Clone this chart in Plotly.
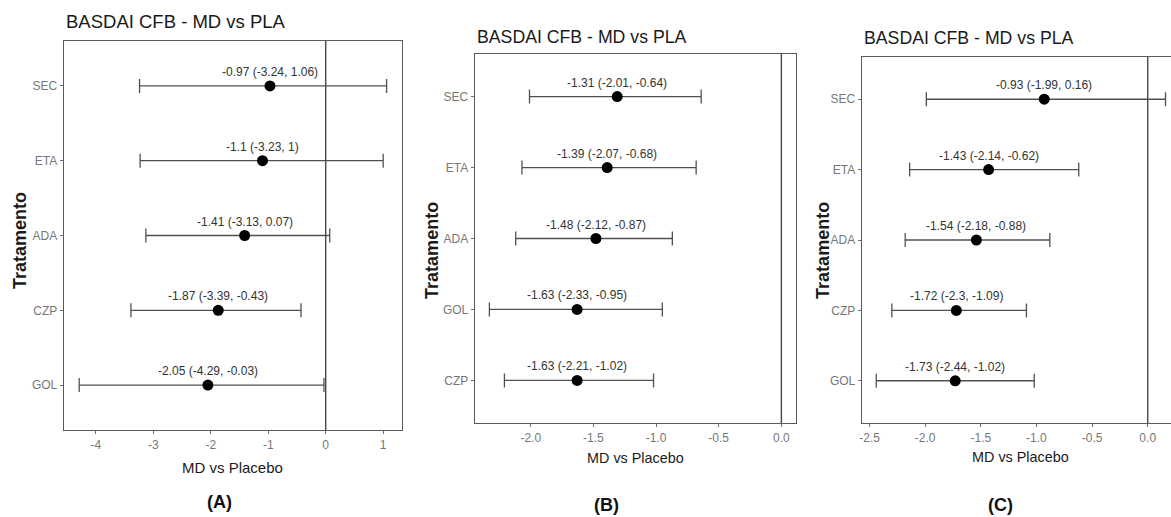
import plotly.graph_objects as go

# ---------------- data ----------------
# Panel A (top to bottom)
cat_a = ["SEC", "ETA", "ADA", "CZP", "GOL"]
md_a = [-0.97, -1.1, -1.41, -1.87, -2.05]
lo_a = [-3.24, -3.23, -3.13, -3.39, -4.29]
hi_a = [1.06, 1.0, 0.07, -0.43, -0.03]

# Panel B
cat_b = ["SEC", "ETA", "ADA", "GOL", "CZP"]
md_b = [-1.31, -1.39, -1.48, -1.63, -1.63]
lo_b = [-2.01, -2.07, -2.12, -2.33, -2.21]
hi_b = [-0.64, -0.68, -0.87, -0.95, -1.02]

# Panel C
cat_c = ["SEC", "ETA", "ADA", "CZP", "GOL"]
md_c = [-0.93, -1.43, -1.54, -1.72, -1.73]
lo_c = [-1.99, -2.14, -2.18, -2.3, -2.44]
hi_c = [0.16, -0.62, -0.88, -1.09, -1.02]

ticks_a = [-4, -3, -2, -1, 0, 1]
ticks_b = [-2.0, -1.5, -1.0, -0.5, 0.0]
ticks_c = [-2.5, -2.0, -1.5, -1.0, -0.5, 0.0]

title_txt = "BASDAI CFB - MD vs PLA"
xtitle_txt = "MD vs Placebo"
ytitle_txt = "Tratamento"
panel_tags = ["(A)", "(B)", "(C)"]

# ---------------- layout constants (pixels) ----------------
W, H = 1171, 517
FONT = "Liberation Sans, Arial, sans-serif"
FRAME = "#5a5a5a"
TICKC = "#6e6e6e"

panels = [
    dict(cat=cat_a, md=md_a, lo=lo_a, hi=hi_a, ticks=ticks_a, fmt="d",
         px=(61, 400), full_right=400, py=(41, 430), mirror=True,
         title_xy=(61, 22), title_size=18.5, xt_xy=(230, 467), xt_size=15,
         yt_xy=(17, 240), tag_xy=(217, 502)),
    dict(cat=cat_b, md=md_b, lo=lo_b, hi=hi_b, ticks=ticks_b, fmt=".1f",
         px=(473, 795), full_right=795, py=(54, 423), mirror=True,
         title_xy=(473, 37), title_size=17.7, xt_xy=(634, 458), xt_size=14.4,
         yt_xy=(430, 250), tag_xy=(605, 505)),
    dict(cat=cat_c, md=md_c, lo=lo_c, hi=hi_c, ticks=ticks_c, fmt=".1f",
         px=(861, 1171), full_right=1180, py=(57, 423), mirror=False,
         title_xy=(861, 38), title_size=17.7, xt_xy=(1020, 457), xt_size=14.4,
         yt_xy=(822, 250), tag_xy=(1000, 505)),
]


def fmt_num(v):
    return f"{v:g}"


fig = go.Figure()
annotations = []
shapes = []
layout_axes = {}

for i, p in enumerate(panels, start=1):
    xa = "x" if i == 1 else f"x{i}"
    ya = "y" if i == 1 else f"y{i}"
    xkey = "xaxis" if i == 1 else f"xaxis{i}"
    ykey = "yaxis" if i == 1 else f"yaxis{i}"

    n = len(p["cat"])
    # y positions: first category at top
    ypos = [n - 1 - k for k in range(n)]

    # data range with ggplot-like 5% expansion (including the 0 reference line)
    dmin = min(min(p["lo"]), 0)
    dmax = max(max(p["hi"]), 0)
    span = dmax - dmin
    r0 = dmin - 0.05 * span
    r1 = dmax + 0.05 * span
    # crop if panel is cut by the image edge
    full_w = p["full_right"] - p["px"][0]
    vis_w = p["px"][1] - p["px"][0]
    r1 = r0 + (r1 - r0) * vis_w / full_w

    err_plus = [h - m for h, m in zip(p["hi"], p["md"])]
    err_minus = [m - l for m, l in zip(p["md"], p["lo"])]

    fig.add_trace(go.Scatter(
        x=p["md"], y=ypos, mode="markers",
        marker=dict(color="black", size=11),
        error_x=dict(type="data", symmetric=False, array=err_plus,
                     arrayminus=err_minus, color="#505050", thickness=1.3,
                     width=7),
        xaxis=xa, yaxis=ya, showlegend=False, hoverinfo="skip",
    ))

    for m, l, h, yy in zip(p["md"], p["lo"], p["hi"], ypos):
        annotations.append(dict(
            x=m, y=yy, xref=xa, yref=ya, yshift=14,
            text=f"{fmt_num(m)} ({fmt_num(l)}, {fmt_num(h)})",
            showarrow=False, font=dict(family=FONT, size=12, color="#333333"),
            xanchor="center", yanchor="middle",
        ))

    # vertical reference line at 0
    shapes.append(dict(type="line", xref=xa, yref=f"{ya} domain",
                       x0=0, x1=0, y0=0, y1=1,
                       line=dict(color="#4a4a4a", width=1.4)))

    dom_x = [p["px"][0] / W, p["px"][1] / W]
    dom_y = [1 - p["py"][1] / H, 1 - p["py"][0] / H]

    tick_text = [format(t, p["fmt"]) if p["fmt"] != "d" else str(int(t)) for t in p["ticks"]]

    layout_axes[xkey] = dict(
        domain=dom_x, range=[r0, r1], anchor=ya,
        tickvals=p["ticks"], ticktext=tick_text,
        showgrid=False, zeroline=False,
        showline=True, linecolor=FRAME, linewidth=1.3, mirror=True,
        ticks="outside", ticklen=3, tickcolor=TICKC, tickwidth=1,
        tickfont=dict(family=FONT, size=12, color="#777777"),
        fixedrange=True,
    )
    layout_axes[ykey] = dict(
        domain=dom_y, range=[-0.6, n - 0.4], anchor=xa,
        tickvals=ypos, ticktext=p["cat"],
        showgrid=False, zeroline=False,
        showline=True, linecolor=FRAME, linewidth=1.3,
        mirror=p["mirror"],
        ticks="outside", ticklen=3, tickcolor=TICKC, tickwidth=1,
        tickfont=dict(family=FONT, size=12, color="#777777"),
        fixedrange=True,
    )

    # title
    annotations.append(dict(
        x=p["title_xy"][0] / W, y=1 - p["title_xy"][1] / H,
        xref="paper", yref="paper", xanchor="left", yanchor="middle",
        text=title_txt, showarrow=False,
        font=dict(family=FONT, size=p["title_size"], color="#1a1a1a"),
    ))
    # x title
    annotations.append(dict(
        x=p["xt_xy"][0] / W, y=1 - p["xt_xy"][1] / H,
        xref="paper", yref="paper", xanchor="center", yanchor="middle",
        text=xtitle_txt, showarrow=False,
        font=dict(family=FONT, size=p["xt_size"], color="#1a1a1a"),
    ))
    # y title
    annotations.append(dict(
        x=p["yt_xy"][0] / W, y=1 - p["yt_xy"][1] / H,
        xref="paper", yref="paper", xanchor="center", yanchor="middle",
        text=f"<b>{ytitle_txt}</b>", showarrow=False, textangle=-90,
        font=dict(family=FONT, size=18, color="#1a1a1a"),
    ))
    # panel tag
    annotations.append(dict(
        x=p["tag_xy"][0] / W, y=1 - p["tag_xy"][1] / H,
        xref="paper", yref="paper", xanchor="center", yanchor="middle",
        text=f"<b>{panel_tags[i - 1]}</b>", showarrow=False,
        font=dict(family=FONT, size=18, color="#111111"),
    ))

fig.update_layout(
    width=W, height=H,
    margin=dict(l=0, r=0, t=0, b=0),
    paper_bgcolor="white", plot_bgcolor="white",
    annotations=annotations, shapes=shapes,
    **layout_axes,
)

fig.write_html("out.html", config={"displayModeBar": False})
